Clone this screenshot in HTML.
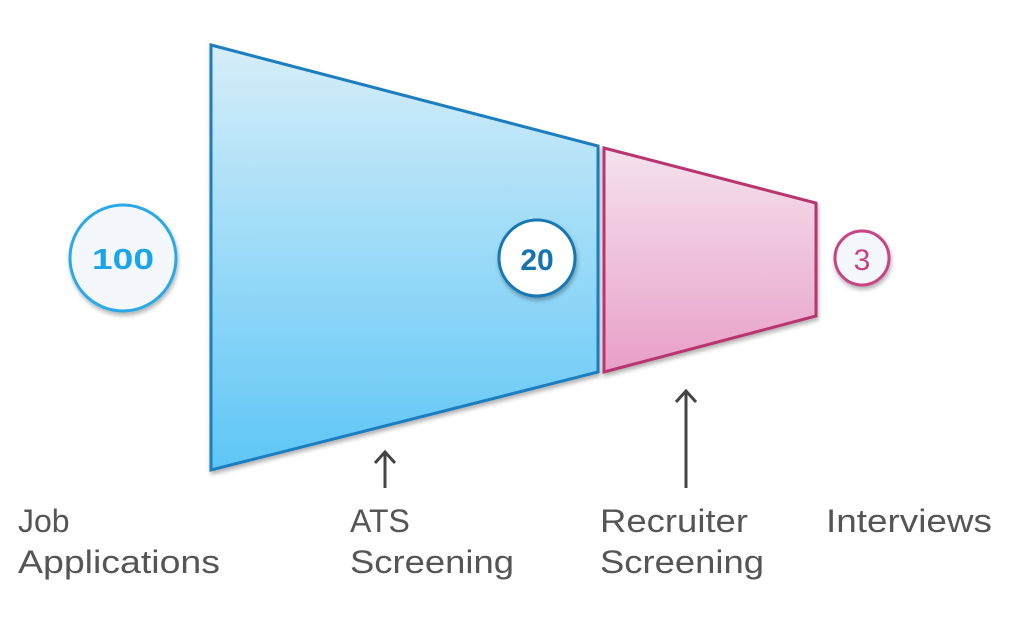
<!DOCTYPE html>
<html><head><meta charset="utf-8"><style>html,body{margin:0;padding:0;background:#fff}svg{display:block}</style></head>
<body>
<svg width="1024" height="619" viewBox="0 0 1024 619" xmlns="http://www.w3.org/2000/svg">
<defs>
<linearGradient id="b" x1="0" y1="0" x2="0" y2="1"><stop offset="0" stop-color="#d6eef9"/><stop offset="1" stop-color="#5ec6f6"/></linearGradient>
<linearGradient id="p" x1="0" y1="0" x2="0" y2="1"><stop offset="0" stop-color="#f5e2ee"/><stop offset="1" stop-color="#e89fc8"/></linearGradient>
<filter id="s" x="-30%" y="-30%" width="160%" height="160%"><feDropShadow dx="1" dy="3" stdDeviation="2" flood-opacity="0.3"/></filter>
</defs>
<polygon points="211,45 598,146 598,372 211,470" fill="url(#b)" stroke="#1a7dbf" stroke-width="3" filter="url(#s)"/>
<polygon points="604,148 816,203 816,316 604,372" fill="url(#p)" stroke="#b8356f" stroke-width="3" filter="url(#s)"/>
<circle cx="123" cy="258" r="53" fill="#f4f7fc" stroke="#2aa9e8" stroke-width="3" filter="url(#s)"/>
<circle cx="537" cy="258" r="38" fill="#fff" stroke="#1477b5" stroke-width="3" filter="url(#s)"/>
<circle cx="862" cy="258" r="27" fill="#f4f7fc" stroke="#c84585" stroke-width="3" filter="url(#s)"/>
<g font-family="Liberation Sans, sans-serif" font-weight="bold" text-anchor="middle">
<text x="123" y="269" font-size="29" fill="#1aa5ea" textLength="62" lengthAdjust="spacingAndGlyphs">100</text>
<text x="537" y="270" font-size="30" fill="#1474b0">20</text>
<text x="862" y="270" font-size="30" font-weight="normal" fill="#c8407f">3</text>
</g>
<g stroke="#444" stroke-width="3" fill="none">
<line x1="385" y1="488" x2="385" y2="453"/><polyline points="375,463 385,452 395,463"/>
<line x1="686" y1="488" x2="686" y2="392"/><polyline points="676,402 686,391 696,402"/>
</g>
<g font-family="Liberation Sans, sans-serif" font-size="32" fill="#555">
<text x="18" y="532">Job</text>
<text x="18" y="573" textLength="202" lengthAdjust="spacingAndGlyphs">Applications</text>
<text x="350" y="532">ATS</text>
<text x="350" y="573" textLength="164" lengthAdjust="spacingAndGlyphs">Screening</text>
<text x="600" y="532" textLength="148" lengthAdjust="spacingAndGlyphs">Recruiter</text>
<text x="600" y="573" textLength="164" lengthAdjust="spacingAndGlyphs">Screening</text>
<text x="826" y="532" textLength="166" lengthAdjust="spacingAndGlyphs">Interviews</text>
</g>
</svg>
</body></html>
